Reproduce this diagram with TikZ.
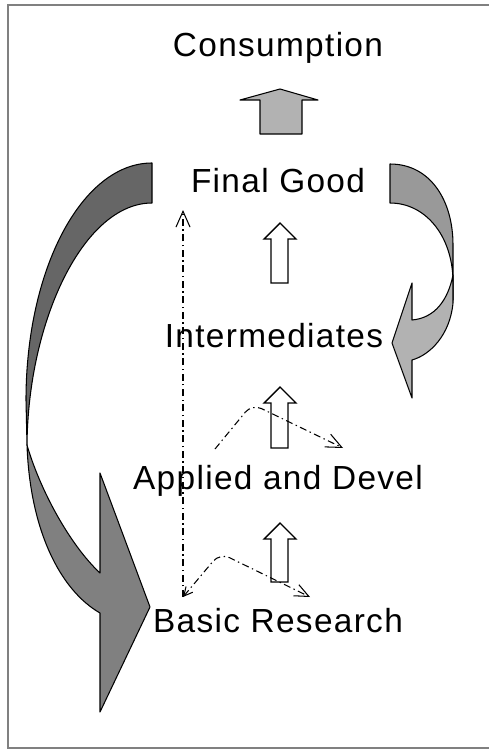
\documentclass[tikz,border=0pt]{standalone}
\usepackage{fontspec}
\setmainfont{Liberation Sans}[LetterSpace=4]
\usetikzlibrary{arrows.meta}
\begin{document}
\begin{tikzpicture}[x=0.02cm,y=-0.02cm]
% Styles
\tikzstyle{cadre}=[draw=gray,line width=0.6pt]
\tikzstyle{texte}=[anchor=base,inner sep=0pt,font=\fontsize{19}{22}\selectfont]
\tikzstyle{creuse}=[draw=black,fill=white,line width=0.8pt]
\tikzstyle{pleine}=[draw=black,line width=0.6pt,line join=round]
\tikzstyle{tiret}=[line width=0.6pt,dash pattern=on 4pt off 2pt on 0.8pt off 2pt]
\tikzstyle{pointe}=[-{Straight Barb[length=9pt,width=8pt]}]
% Fleche creuse : sommet, bas
\def\flecheblanche#1#2{\draw[creuse] (271,#2) -- (271,#1+16) -- (264,#1+16) -- (280,#1) -- (296,#1+16) -- (288,#1+16) -- (288,#2) -- cycle;}
% Cadre (sans bord droit)
\useasboundingbox (0,0) rectangle (489,750);
\draw[cadre] (489,5) -- (8,5) -- (8,748) -- (489,748);
% Textes
\node[texte] (conso) at (278,57) {Consumption};
\node[texte] (final) at (278,192) {Final Good};
\node[texte] (inter) at (274,347) {Intermediates};
\node[texte] (appli) at (278,489) {Applied and Devel};
\node[texte] (basic) at (278,632) {Basic Research};
% Fleche vers la consommation
\draw[pleine,fill=black!30] (260,134) -- (260,100) -- (240,100) -- (280,89) -- (318,100) -- (302,100) -- (302,134) -- cycle;
% Fleches creuses
\flecheblanche{223}{283}
\flecheblanche{387}{448}
\flecheblanche{523}{582}
% Grande fleche gauche
\draw[pleine,fill=black!60] (152,163) .. controls (82,163) and (26,269) .. (26,400) -- (27,445)
  .. controls (28,320) and (84,203) .. (152,203) -- cycle;
\draw[pleine,fill=black!50] (27,445) .. controls (40,490) and (70,545) .. (100,573) -- (100,473)
  -- (150,607) -- (100,712) -- (100,613) .. controls (60,590) and (30,530) .. (27,445) -- cycle;
% Grande fleche droite
\draw[pleine,fill=black!40] (390,164) .. controls (430,164) and (453,200) .. (453,245) -- (453,300)
  -- (453,280) .. controls (452,235) and (425,203) .. (390,203) -- cycle;
\draw[pleine,fill=black!30] (453,275) .. controls (448,300) and (435,318) .. (412,320) -- (412,283)
  -- (392,343) -- (412,398) -- (412,360) .. controls (430,355) and (450,335) .. (453,303) -- cycle;
% Liaisons en tirets
\coordinate (basG) at (183,597);
\coordinate (finalG) at (183,210);
\coordinate (appG) at (215,449);
\coordinate (appS) at (252,404);
\coordinate (appD) at (343,448);
\coordinate (basS) at (220,553);
\coordinate (basD) at (310,597);
\draw[tiret,pointe] (basG) -- (finalG);
\draw[tiret,pointe,rounded corners=6pt] (appG) -- (appS) -- (appD);
\draw[tiret,{Straight Barb[length=5pt,width=5pt]}-{Straight Barb[length=8pt,width=7pt]},rounded corners=6pt] (basG) -- (basS) -- (basD);
\end{tikzpicture}
\end{document}
